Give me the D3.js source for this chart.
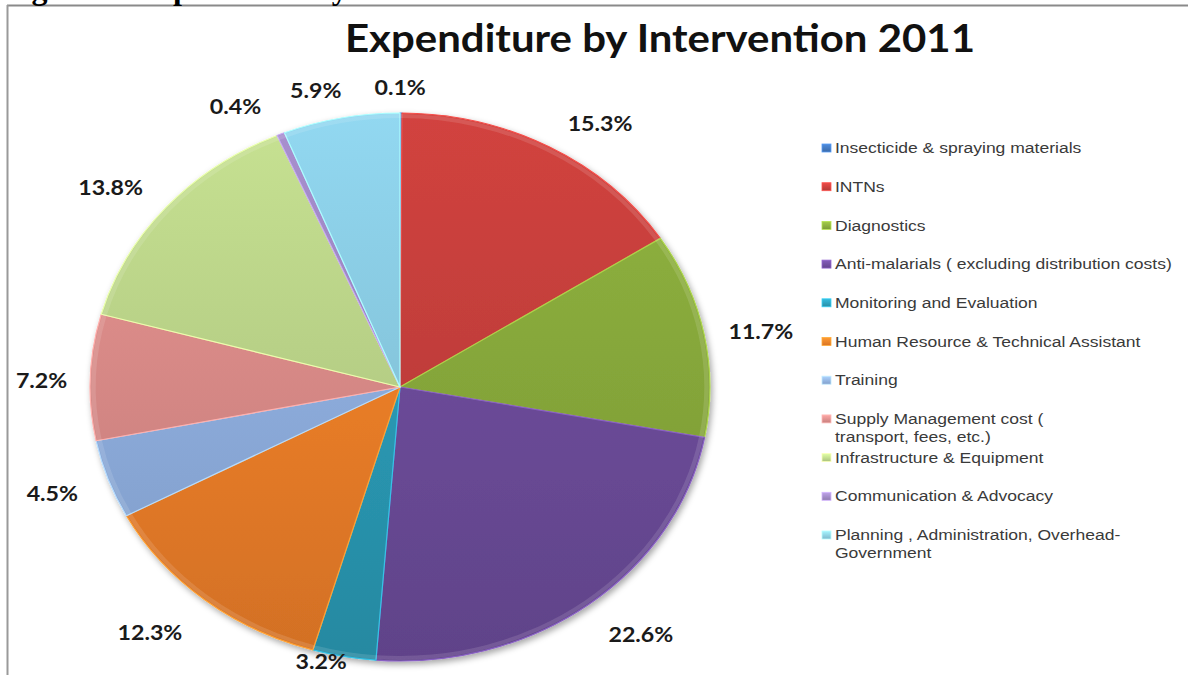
<!DOCTYPE html>
<html>
<head>
<meta charset="utf-8">
<script src="https://cdn.jsdelivr.net/npm/d3@7"></script>
<style>
  html, body { margin: 0; padding: 0; background: #ffffff; }
  svg { display: block; }
</style>
</head>
<body>
<svg id="chart" width="1188" height="675"></svg>
<script>
// Intervention categories, in pie order (clockwise from 12 o'clock)
const categories = [
  "Insecticide & spraying materials",
  "INTNs",
  "Diagnostics",
  "Anti-malarials ( excluding distribution  costs)",
  "Monitoring and Evaluation",
  "Human Resource & Technical Assistant",
  "Training",
  "Supply Management cost (\ntransport, fees, etc.)",
  "Infrastructure & Equipment",
  "Communication & Advocacy",
  "Planning , Administration, Overhead-\nGovernment"
];

// Share of expenditure (%) per category
const shares = [0.1, 15.3, 11.7, 22.6, 3.2, 12.3, 4.5, 7.2, 13.8, 0.4, 5.9];

// Slice label text
const shareLabels = shares.map(v => v.toFixed(1) + "%");

// Slice base colours
const palette = [
  "#3f72b4", "#c03d3a", "#85a63a", "#6b4b98", "#2a98b3", "#ea7d28",
  "#8cabdb", "#d68886", "#b6cf86", "#9a84bd", "#86c6dc"
];

// Small label adjustments (px) from the radial anchor, like Excel's outside-end layout
const labelNudge = [
  [-1, 18], [27, 15], [8, 5], [22, -5], [-14, -39], [-23, -2],
  [-9, -1], [1, 4], [-18, 9], [-26, 13], [-16, 15]
];

const svg = d3.select("#chart");
const defs = svg.append("defs");

// Layout
const cx = 400, cy = 387;
const R = 274;          // vertical radius
const sx = 1.131;       // horizontal stretch of the whole drawing
const labelR = 318;

// Drop shadow under the pie
const shadow = defs.append("filter").attr("id", "pieShadow")
  .attr("x", "-10%").attr("y", "-10%").attr("width", "120%").attr("height", "120%");
shadow.append("feDropShadow")
  .attr("dx", 2).attr("dy", 3).attr("stdDeviation", 3)
  .attr("flood-color", "#000").attr("flood-opacity", 0.35);

// Vertical gradients per slice, lighter at top and darker at bottom
palette.forEach((c, i) => {
  const g = defs.append("linearGradient").attr("id", "grad" + i)
    .attr("gradientUnits", "userSpaceOnUse")
    .attr("x1", 0).attr("y1", -R).attr("x2", 0).attr("y2", R);
  g.append("stop").attr("offset", "0%").attr("stop-color", d3.color(c).brighter(0.25));
  g.append("stop").attr("offset", "100%").attr("stop-color", d3.color(c).darker(0.3));
  const lg = defs.append("linearGradient").attr("id", "lgrad" + i)
    .attr("x1", 0).attr("y1", 0).attr("x2", 0).attr("y2", 1);
  lg.append("stop").attr("offset", "0%").attr("stop-color", d3.color(c).brighter(0.6));
  lg.append("stop").attr("offset", "100%").attr("stop-color", d3.color(c).darker(0.2));
});

// Frame lines
svg.append("line").attr("x1", 7).attr("y1", 5.5).attr("x2", 1188).attr("y2", 5.5)
  .attr("stroke", "#8a8a8a").attr("stroke-width", 2);
svg.append("line").attr("x1", 7.5).attr("y1", 5).attr("x2", 7.5).attr("y2", 675)
  .attr("stroke", "#9a9a9a").attr("stroke-width", 2);

// Figure caption, mostly above the visible area
svg.append("text")
  .attr("x", 3).attr("y", -1)
  .attr("font-family", "Liberation Serif, serif")
  .attr("font-weight", "bold").attr("font-size", 32)
  .attr("fill", "#000")
  .text("Figure 4: Expenditure by Intervention");

// Title
svg.append("text")
  .attr("x", 345).attr("y", 52)
  .attr("font-family", "Lato, sans-serif")
  .attr("font-weight", "bold").attr("font-size", 39)
  .attr("fill", "#111")
  .attr("textLength", 630).attr("lengthAdjust", "spacingAndGlyphs")
  .text("Expenditure by Intervention 2011");

// Pie
const pie = d3.pie().sort(null).value(d => d).startAngle(0).endAngle(2 * Math.PI);
const arcs = pie(shares);
const arc = d3.arc().innerRadius(0).outerRadius(R);

const pieG = svg.append("g").attr("filter", "url(#pieShadow)")
  .append("g").attr("transform", `translate(${cx},${cy}) scale(${sx},1)`);

pieG.selectAll("path.slice").data(arcs).enter().append("path")
  .attr("class", "slice")
  .attr("d", arc)
  .attr("fill", (d, i) => `url(#grad${i})`)
  .attr("stroke", (d, i) => d3.color(palette[i]).brighter(0.7))
  .attr("stroke-width", 1.2)
  .attr("stroke-linejoin", "round")
  .attr("vector-effect", "non-scaling-stroke");

// Inner bevel highlight along the rim
const rim = d3.arc().innerRadius(R - 5).outerRadius(R - 1);
pieG.selectAll("path.rim").data(arcs).enter().append("path")
  .attr("class", "rim")
  .attr("d", rim)
  .attr("fill", "#ffffff").attr("fill-opacity", 0.12);

// Percentage labels
svg.selectAll("text.pct").data(arcs).enter().append("text")
  .attr("class", "pct")
  .attr("transform", (d, i) => {
    const a = (d.startAngle + d.endAngle) / 2;
    const x = cx + labelR * sx * Math.sin(a) + labelNudge[i][0];
    const y = cy - labelR * Math.cos(a) + labelNudge[i][1];
    return `translate(${x},${y}) scale(${sx},1)`;
  })
  .attr("text-anchor", "middle")
  .attr("dominant-baseline", "central")
  .attr("font-family", "Lato, sans-serif")
  .attr("font-weight", "bold").attr("font-size", 20.5)
  .attr("fill", "#1a1a1a")
  .text((d, i) => shareLabels[i]);

// Legend
const legendX = 822, legendY0 = 148, legendStep = 38.7;
const leg = svg.selectAll("g.leg").data(categories).enter().append("g")
  .attr("class", "leg")
  .attr("transform", (d, i) => `translate(${legendX},${legendY0 + i * legendStep})`);

leg.append("rect")
  .attr("x", 0).attr("y", -4).attr("width", 9).attr("height", 8)
  .attr("fill", (d, i) => `url(#lgrad${i})`)
  .attr("stroke", (d, i) => d3.color(palette[i]).brighter(0.9))
  .attr("stroke-width", 0.8);

leg.append("text")
  .attr("transform", `translate(13,0) scale(${sx},1)`)
  .attr("font-family", "Liberation Sans, Arial, sans-serif")
  .attr("font-size", 15.5)
  .attr("fill", "#3a3a3a")
  .each(function(d) {
    const t = d3.select(this);
    d.split("\n").forEach((line, k) => {
      t.append("tspan").attr("x", 0).attr("y", k * 18)
        .attr("dominant-baseline", "central").text(line);
    });
  });
</script>
</body>
</html>
